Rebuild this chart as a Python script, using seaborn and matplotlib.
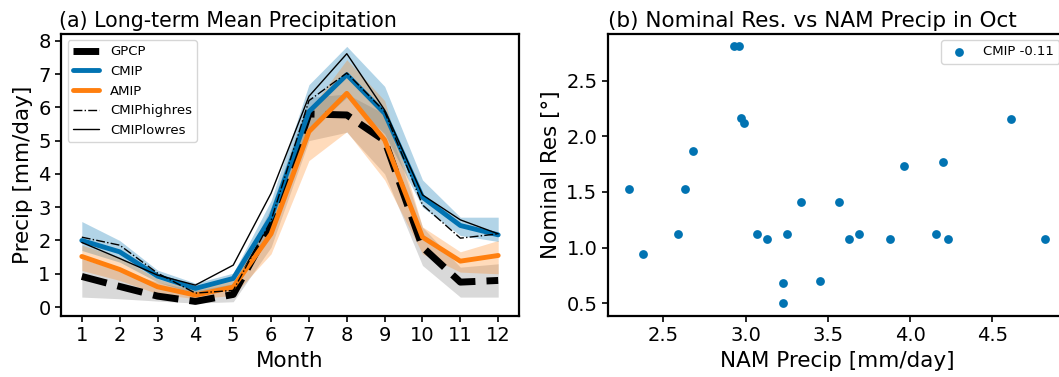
import numpy as np
import pandas as pd
import matplotlib
matplotlib.use("Agg")
import matplotlib.pyplot as plt
import seaborn as sns

# monthly climatology (mm/day)
months = list(range(1, 13))
gpcp = [0.92, 0.62, 0.33, 0.17, 0.38, 2.45, 5.80, 5.77, 5.00, 1.80, 0.75, 0.80]
gpcp_lo = [0.30, 0.25, 0.18, 0.12, 0.16, 1.80, 5.00, 5.25, 4.00, 1.25, 0.30, 0.30]
gpcp_hi = [1.45, 1.10, 0.75, 0.50, 0.70, 3.00, 6.30, 6.40, 5.80, 2.40, 1.20, 1.30]

cmip = [2.00, 1.66, 0.93, 0.56, 0.86, 2.70, 5.87, 6.98, 5.82, 3.30, 2.45, 2.17]
cmip_lo = [1.70, 1.35, 0.75, 0.40, 0.60, 2.20, 5.30, 6.30, 5.20, 3.00, 2.15, 1.97]
cmip_hi = [2.57, 2.00, 1.11, 0.72, 1.02, 3.20, 6.68, 7.83, 6.63, 3.82, 2.70, 2.70]

amip = [1.52, 1.13, 0.61, 0.36, 0.60, 2.20, 5.27, 6.42, 5.02, 2.10, 1.38, 1.55]
amip_lo = [1.10, 0.80, 0.40, 0.25, 0.35, 1.60, 4.40, 5.27, 3.82, 1.60, 1.05, 1.00]
amip_hi = [1.86, 1.50, 0.85, 0.50, 0.85, 2.80, 5.90, 7.43, 6.20, 2.41, 1.66, 2.00]

cmip_highres = [2.10, 1.86, 1.02, 0.42, 0.50, 2.60, 6.20, 7.03, 5.87, 3.07, 2.07, 2.20]
cmip_lowres = [1.94, 1.46, 0.96, 0.66, 1.26, 3.42, 6.33, 7.61, 5.92, 3.37, 2.62, 2.20]

# October NAM precip vs nominal model resolution
nam_precip = [2.29, 2.38, 2.59, 2.63, 2.68, 2.93, 2.96, 2.97, 2.99, 3.07, 3.13, 3.23, 3.23,
              3.25, 3.34, 3.45, 3.57, 3.63, 3.69, 3.88, 3.96, 4.16, 4.20, 4.23, 4.61, 4.82]
nominal_res = [1.53, 0.94, 1.12, 1.53, 1.87, 2.81, 2.81, 2.17, 2.12, 1.12, 1.08, 0.68, 0.50,
               1.12, 1.41, 0.70, 1.41, 1.08, 1.12, 1.08, 1.73, 1.12, 1.77, 1.08, 2.16, 1.08]
corr_label = "CMIP -0.11"

BLUE = "#0173b2"
ORANGE = "#ff7f0e"

sns.set_theme(style="ticks", rc={
    "text.color": "black", "axes.labelcolor": "black",
    "xtick.color": "black", "ytick.color": "black",
    "axes.edgecolor": "black", "axes.linewidth": 1.6,
    "xtick.major.width": 1.2, "ytick.major.width": 1.2,
    "xtick.major.size": 4, "ytick.major.size": 4,
})
plt.rcParams['font.family'] = ['DejaVu Sans']

fig = plt.figure(figsize=(10.59, 3.77), dpi=100)
ax1 = fig.add_axes([0.0576, 0.162, 0.4325, 0.749])
ax2 = fig.add_axes([0.574, 0.162, 0.4325, 0.749])

# (a) climatology
clim = pd.DataFrame({"month": months, "GPCP": gpcp, "CMIP": cmip, "AMIP": amip,
                     "CMIPhighres": cmip_highres, "CMIPlowres": cmip_lowres})

ax1.fill_between(months, gpcp_lo, gpcp_hi, color="black", alpha=0.15, lw=0)
sns.lineplot(data=clim, x="month", y="GPCP", ax=ax1, color="black", lw=5,
             linestyle="--", label="GPCP")
ax1.fill_between(months, cmip_lo, cmip_hi, color=BLUE, alpha=0.3, lw=0)
sns.lineplot(data=clim, x="month", y="CMIP", ax=ax1, color=BLUE, lw=3.5, label="CMIP")
ax1.fill_between(months, amip_lo, amip_hi, color=ORANGE, alpha=0.28, lw=0)
sns.lineplot(data=clim, x="month", y="AMIP", ax=ax1, color=ORANGE, lw=3.5, label="AMIP")
sns.lineplot(data=clim, x="month", y="CMIPhighres", ax=ax1, color="black", lw=1,
             linestyle="-.", label="CMIPhighres")
sns.lineplot(data=clim, x="month", y="CMIPlowres", ax=ax1, color="black", lw=1,
             label="CMIPlowres")

ax1.set_xticks(months)
ax1.set_yticks(range(0, 9))
ax1.tick_params(labelsize=14)
ax1.set_xlabel("Month", fontsize=15.5)
ax1.set_ylabel("Precip [mm/day]", fontsize=15.5)
ax1.set_title("(a) Long-term Mean Precipitation", fontsize=14.8, loc="left", x=-0.005, pad=5)
ax1.legend(loc="upper left", fontsize=9.5)

# (b) scatter
scat = pd.DataFrame({"precip": nam_precip, "res": nominal_res})
sns.scatterplot(data=scat, x="precip", y="res", ax=ax2, color=BLUE, s=40,
                linewidth=0, label=corr_label)
ax2.set_xticks([2.5, 3.0, 3.5, 4.0, 4.5])
ax2.set_yticks([0.5, 1.0, 1.5, 2.0, 2.5])
ax2.tick_params(labelsize=14)
ax2.set_xlabel("NAM Precip [mm/day]", fontsize=15.5)
ax2.set_ylabel("Nominal Res [°]", fontsize=15.5)
ax2.set_title("(b) Nominal Res. vs NAM Precip in Oct", fontsize=15.5, loc="left", pad=5)
ax2.legend(loc="upper right", fontsize=9.5)

fig.savefig("out.png", dpi=100)
